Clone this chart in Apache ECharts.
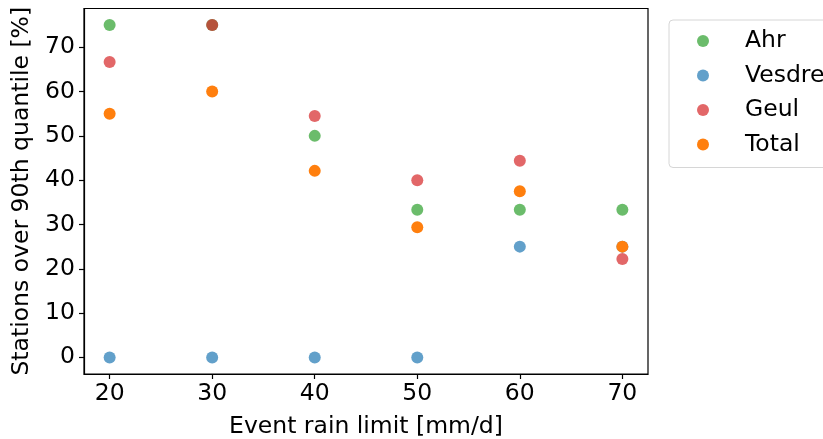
<!DOCTYPE html>
<html>
<head>
<meta charset="utf-8">
<script src="https://cdn.jsdelivr.net/npm/echarts@6/dist/echarts.min.js"></script>
<style>
  html, body { margin: 0; padding: 0; background: #fff; }
  #chart { width: 823px; height: 439px; }
</style>
</head>
<body>
<div id="chart"></div>
<script>
// Event rain limits [mm/d]
const rainLimits = [20, 30, 40, 50, 60, 70];

// Share of stations above the 90th quantile [%]
const ahr    = [75, 75, 50, 33.3, 33.3, 33.3];
const vesdre = [0, 0, 0, 0, 25, 25];
const geul   = [66.7, 75, 54.5, 40, 44.4, 22.2];
const total  = [55, 60, 42.1, 29.4, 37.5, 25];

const xTicks = [20, 30, 40, 50, 60, 70];
const yTicks = [0, 10, 20, 30, 40, 50, 60, 70];

const FONT = 'DejaVu Sans';
const FS = 23.5;

function pairs(ys) {
  return rainLimits.map((x, i) => [x, ys[i]]);
}

function scatter(name, ys, color) {
  return {
    name: name,
    type: 'scatter',
    data: pairs(ys),
    symbol: 'circle',
    symbolSize: 12,
    itemStyle: { color: color, opacity: 1 },
    emphasis: { disabled: true },
    animation: false
  };
}

const chart = echarts.init(document.getElementById('chart'), null, { renderer: 'canvas' });

chart.setOption({
  backgroundColor: '#ffffff',
  animation: false,
  grid: {
    left: 84, top: 8.5, right: 175, bottom: 65,
    outerBoundsMode: 'none',
    containLabel: false,
    show: true, borderColor: '#000', borderWidth: 1.2, backgroundColor: 'transparent'
  },
  xAxis: {
    type: 'value',
    min: 17.5, max: 72.5,
    name: 'Event rain limit [mm/d]',
    nameLocation: 'middle',
    nameGap: 41,
    nameTextStyle: { fontFamily: FONT, fontSize: FS, color: '#000' },
    axisLine: { show: true, onZero: false, lineStyle: { color: '#000', width: 1.2 } },
    axisTick: { show: true, inside: false, length: 5, customValues: xTicks, lineStyle: { color: '#000', width: 1.2 } },
    axisLabel: { show: true, customValues: xTicks, margin: 8, fontFamily: FONT, fontSize: FS, color: '#000' },
    splitLine: { show: false }
  },
  yAxis: {
    type: 'value',
    min: -3.75, max: 78.75,
    name: 'Stations over 90th quantile [%]',
    nameLocation: 'middle',
    nameGap: 46,
    nameTextStyle: { fontFamily: FONT, fontSize: FS, color: '#000' },
    axisLine: { show: true, onZero: false, lineStyle: { color: '#000', width: 1.2 } },
    axisTick: { show: true, inside: false, length: 5, customValues: yTicks, lineStyle: { color: '#000', width: 1.2 } },
    axisLabel: { show: true, customValues: yTicks, margin: 9, fontFamily: FONT, fontSize: FS, color: '#000' },
    splitLine: { show: false }
  },
  legend: {
    orient: 'vertical',
    left: 669, top: 20,
    padding: [8, 60, 10, 28],
    itemGap: 8.5,
    itemWidth: 30,
    itemHeight: 12,
    icon: 'circle',
    backgroundColor: 'rgba(255,255,255,0.8)',
    borderColor: '#d6d6d6',
    borderWidth: 1,
    borderRadius: 4,
    textStyle: { fontFamily: FONT, fontSize: FS, lineHeight: 26, color: '#000', padding: [0, 0, 0, 22] },
    data: ['Ahr', 'Vesdre', 'Geul', 'Total']
  },
  series: [
    scatter('Ahr', ahr, 'rgba(44,160,44,0.7)'),
    scatter('Vesdre', vesdre, 'rgba(31,119,180,0.7)'),
    scatter('Geul', geul, 'rgba(214,39,40,0.7)'),
    scatter('Total', total, '#ff7f0e')
  ]
});
</script>
</body>
</html>
